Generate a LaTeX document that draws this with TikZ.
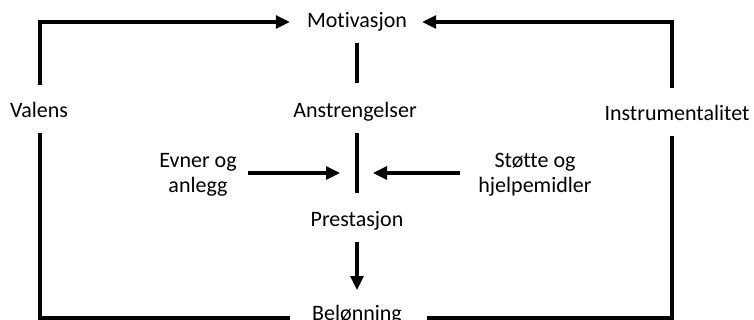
\documentclass[tikz,border=0pt]{standalone}
\usepackage{fontspec}
\setmainfont{Carlito}[Ligatures=NoCommon]
\usetikzlibrary{arrows.meta}
\begin{document}
\begin{tikzpicture}[x=1pt,y=-1pt,
  lbl/.style={font=\fontsize{22}{26}\selectfont, text height=21pt, text depth=3pt,
              inner xsep=0pt, inner ysep=12pt, anchor=base},
  duo/.style={font=\fontsize{22}{25}\selectfont, align=center, inner sep=0pt, anchor=center},
  conn/.style={line width=3.1pt},
  arr/.style={conn, -{Triangle[length=14pt,width=13pt]}}]
\useasboundingbox (0,0) rectangle (754,320);

% concept labels
\node[lbl] (mot) at (357,28)  {Motivasjon};
\node[lbl] (ans) at (355,118) {Anstrengelser};
\node[lbl] (pre) at (357,227) {Prestasjon};
\node[lbl] (bel) at (357,320) {Belønning};
\node[lbl] (val) at (39,118)  {Valens};
\node[lbl] (ins) at (677,121) {Instrumentalitet};
\node[duo] (evn) at (198,175) {Evner og\\anlegg};
\node[duo] (sto) at (535,175) {Støtte og\\hjelpemidler};

% corner and junction points
\coordinate (tl) at (40,22);
\coordinate (tr) at (672,22);
\coordinate (bl) at (40,318);
\coordinate (br) at (672,318);
\coordinate (mid) at (357,173);

% outer loop
\draw[arr] (val.north -| tl) -- (tl) -- ([xshift=-17pt]mot.west |- tl);
\draw[arr] (ins.north -| tr) -- (tr) -- ([xshift=15pt]mot.east |- tr);
\draw[conn] (val.south -| bl) -- (bl) -- ([xshift=-22pt]bel.west |- bl);
\draw[conn] (ins.south -| br) -- (br) -- ([xshift=25pt]bel.east |- br);

% central column
\draw[conn] (mot.south -| mid) -- ([yshift=2pt]ans.north -| mid);
\draw[conn] (ans.south -| mid) -- ([yshift=1pt]pre.north -| mid);
\draw[arr] (pre.south -| mid) -- ([yshift=30pt]bel.base -| mid);

% side influences
\draw[arr] ([xshift=11pt]evn.east |- mid) -- ([xshift=-17pt]mid);
\draw[arr] ([xshift=-18pt]sto.west |- mid) -- ([xshift=16pt]mid);
\end{tikzpicture}
\end{document}
